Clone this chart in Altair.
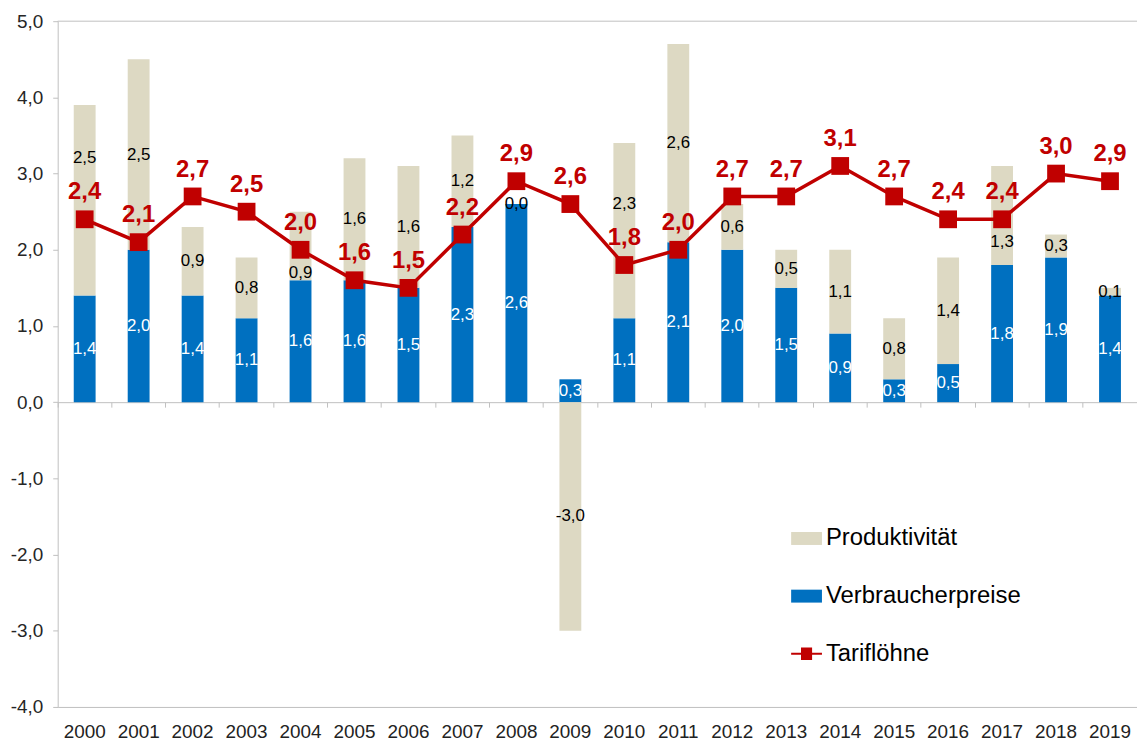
import altair as alt
import pandas as pd

# ---------------- data ----------------
years = [str(y) for y in range(2000, 2020)]
verbraucherpreise = [1.4, 2.0, 1.4, 1.1, 1.6, 1.6, 1.5, 2.3, 2.6, 0.3,
                     1.1, 2.1, 2.0, 1.5, 0.9, 0.3, 0.5, 1.8, 1.9, 1.4]
produktivitaet = [2.5, 2.5, 0.9, 0.8, 0.9, 1.6, 1.6, 1.2, 0.0, -3.0,
                  2.3, 2.6, 0.6, 0.5, 1.1, 0.8, 1.4, 1.3, 0.3, 0.1]
tarifloehne = [2.4, 2.1, 2.7, 2.5, 2.0, 1.6, 1.5, 2.2, 2.9, 2.6,
               1.8, 2.0, 2.7, 2.7, 3.1, 2.7, 2.4, 2.4, 3.0, 2.9]
y_ticks = [-4, -3, -2, -1, 0, 1, 2, 3, 4, 5]
series_names = ["Produktivität", "Verbraucherpreise", "Tariflöhne"]
series_colors = ["#DDD9C3", "#0070C0", "#C00000"]

rows = []
for i, y in enumerate(years):
    rows.append({"year": y, "series": "Verbraucherpreise", "value": verbraucherpreise[i],
                 "ord": 0, "tarif": tarifloehne[i]})
    rows.append({"year": y, "series": "Produktivität", "value": produktivitaet[i],
                 "ord": 1, "tarif": tarifloehne[i]})
bars_df = pd.DataFrame(rows)
line_df = pd.DataFrame({"year": years, "value": tarifloehne})
legend_df = pd.DataFrame({"series": series_names})

FONT = "Liberation Sans"
AXIS_GRAY = "#BFBFBF"

W, H = 1086, 690

xscale = alt.Scale(domain=years, paddingInner=0, paddingOuter=0)
yscale = alt.Scale(domain=[-4, 5], nice=False, zero=False)
cscale = alt.Scale(domain=series_names, range=series_colors)
shape_scale = alt.Scale(
    domain=series_names,
    range=[
        "M-1,-0.42H1V0.42H-1Z",
        "M-1,-0.42H1V0.42H-1Z",
        "M-1,-0.07H1V0.07H-1Z M-0.36,-0.4H0.36V0.4H-0.36Z",
    ],
)

def de_fmt(expr):
    return "replace(replace(format(" + expr + ", '.1f'), '.', ','), '\u2212', '-')"

label_expr = de_fmt("datum.value")

# label position: segment middle, moved just above / below the Tariflöhne
# marker and its label when they would collide
pos_expr = (
    "datum.series == 'Produktivität' && datum.mid >= datum.tarif - 0.15 && datum.mid <= datum.tarif + 0.5"
    " ? ((datum.y1 - (datum.tarif + 0.5)) >= ((datum.tarif - 0.15) - datum.y0)"
    "    ? datum.tarif + 0.8"
    "    : datum.tarif - 0.3)"
    " : datum.mid"
)

base_bars = alt.Chart(bars_df).transform_stack(
    stack="value",
    groupby=["year"],
    as_=["y0", "y1"],
    sort=[alt.SortField("ord", order="ascending")],
    offset="zero",
).transform_calculate(
    mid="(datum.y0 + datum.y1) / 2",
    label=de_fmt("datum.value"),
).transform_calculate(
    pos=pos_expr,
)

leg = alt.Legend(
    orient="none",
    legendX=738,
    legendY=505,
    title=None,
    direction="vertical",
    labelFont=FONT,
    labelFontSize=24,
    labelColor="#000000",
    labelLimit=400,
    symbolSize=961,
    symbolOpacity=1,
    symbolStrokeWidth=0,
    rowPadding=30,
    labelOffset=4,
    padding=0,
)

# top frame line at 5,0
top_rule = alt.Chart(pd.DataFrame({"v": [5]})).mark_rule(
    color=AXIS_GRAY, strokeWidth=1
).encode(y=alt.Y("v:Q", scale=yscale, title=None))

bars = base_bars.mark_bar(width=alt.RelativeBandSize(0.405)).encode(
    x=alt.X(
        "year:N",
        scale=xscale,
        sort=years,
        title=None,
        axis=alt.Axis(
            orient="bottom",
            labelAngle=0,
            ticks=False,
            domain=True,
            domainColor=AXIS_GRAY,
            labelFont=FONT,
            labelFontSize=19,
            labelColor="#222222",
            labelPadding=16,
        ),
    ),
    y=alt.Y(
        "y0:Q",
        scale=yscale,
        title=None,
        axis=alt.Axis(
            values=y_ticks,
            labelExpr=label_expr,
            labelFont=FONT,
            labelFontSize=19,
            labelColor="#262626",
            labelPadding=10,
            tickSize=5,
            tickColor=AXIS_GRAY,
            domainColor=AXIS_GRAY,
            grid=False,
        ),
    ),
    y2="y1:Q",
    color=alt.Color("series:N", scale=cscale, legend=leg, sort=series_names),
)

bar_labels = base_bars.mark_text(
    font=FONT, fontSize=17, baseline="middle", align="center"
).encode(
    x=alt.X(
        "year:N",
        scale=xscale,
        sort=years,
        title=None,
        axis=alt.Axis(
            orient="bottom",
            offset=-(H * 4 / 9),
            labels=False,
            ticks=True,
            tickSize=5,
            tickColor=AXIS_GRAY,
            domain=True,
            domainColor=AXIS_GRAY,
            bandPosition=0,
        ),
    ),
    y=alt.Y("pos:Q", scale=yscale, title=None),
    text="label:N",
    color=alt.condition(
        alt.datum.series == "Verbraucherpreise", alt.value("white"), alt.value("black")
    ),
)

line = alt.Chart(line_df).mark_line(color="#C00000", strokeWidth=3.5).encode(
    x=alt.X("year:N", scale=xscale, sort=years, axis=None),
    y=alt.Y("value:Q", scale=yscale, title=None),
)
points = alt.Chart(line_df).mark_point(
    shape="square", filled=True, size=320, color="#C00000", opacity=1
).encode(
    x=alt.X("year:N", scale=xscale, sort=years, axis=None),
    y=alt.Y("value:Q", scale=yscale, title=None),
)
line_labels = alt.Chart(line_df).transform_calculate(
    label=de_fmt("datum.value")
).mark_text(
    font=FONT, fontSize=24, fontWeight="bold", color="#C00000",
    baseline="alphabetic", dy=-20, align="center"
).encode(
    x=alt.X("year:N", scale=xscale, sort=years, axis=None),
    y=alt.Y("value:Q", scale=yscale, title=None),
    text="label:N",
)

legend_layer = alt.Chart(legend_df).mark_point(filled=True, opacity=0).encode(
    color=alt.Color("series:N", scale=cscale, legend=leg, sort=series_names),
    shape=alt.Shape("series:N", scale=shape_scale, legend=leg, sort=series_names),
)

chart = alt.layer(
    top_rule, bars, bar_labels, line, points, line_labels, legend_layer
).resolve_axis(x="independent").properties(
    width=W,
    height=H,
    padding={"left": 50, "top": 11, "right": 0, "bottom": 33},
    autosize=alt.AutoSizeParams(type="none"),
    background="white",
).configure_view(stroke=None).configure_axis(grid=False)

chart.save("out.html", embed_options={"renderer": "svg", "actions": False})
